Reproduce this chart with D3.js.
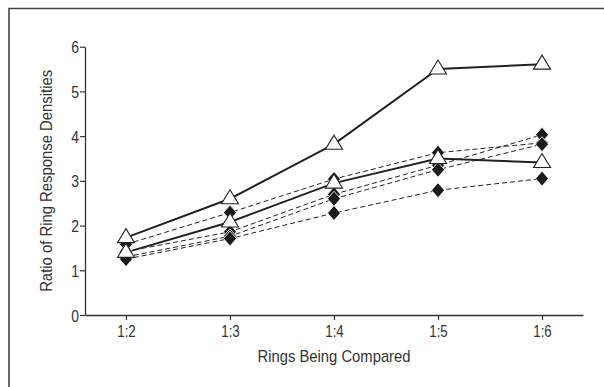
<!DOCTYPE html>
<html>
<head>
<meta charset="utf-8">
<script src="https://cdn.jsdelivr.net/npm/d3@7"></script>
<style>
  body { margin: 0; background: #fff; }
  svg { display: block; }
  text { font-family: "Liberation Sans", Arial, sans-serif; fill: #333; }
</style>
</head>
<body>
<svg id="chart"></svg>
<script>
const W = 604;
const H = 387;

const categories = ['1:2', '1:3', '1:4', '1:5', '1:6'];
const yTicks = [0, 1, 2, 3, 4, 5, 6];

// dashed lines, filled diamonds
const diamond1 = [1.58, 2.29, 3.04, 3.63, 3.85];
const diamond2 = [1.42, 1.86, 2.70, 3.35, 4.03];
const diamond3 = [1.30, 1.76, 2.60, 3.25, 3.82];
const diamond4 = [1.25, 1.71, 2.28, 2.79, 3.05];
// solid lines, open triangles
const triangle1 = [1.73, 2.60, 3.82, 5.50, 5.61];
const triangle2 = [1.40, 2.08, 2.95, 3.50, 3.41];

const series = [
	{ values: diamond1, kind: 'diamond' },
	{ values: diamond2, kind: 'diamond' },
	{ values: diamond3, kind: 'diamond' },
	{ values: diamond4, kind: 'diamond' },
	{ values: triangle1, kind: 'triangle' },
	{ values: triangle2, kind: 'triangle' },
];

const svg = d3.select('#chart').attr('width', W).attr('height', H);

// condensed look: squeeze glyphs horizontally
function condense(sel, k) {
	sel.each(function () {
		const len = this.getComputedTextLength();
		d3.select(this).attr('textLength', len * k).attr('lengthAdjust', 'spacingAndGlyphs');
	});
}

// frame (left and top edges only)
svg.append('path')
	.attr('d', `M9,${H} L9,8.5 L${W},8.5`)
	.attr('fill', 'none')
	.attr('stroke', '#444')
	.attr('stroke-width', 1.6);

const x = d3.scalePoint().domain(categories).range([85, 583]).padding(0.394);
const y = d3.scaleLinear().domain([0, 6]).range([315, 46.7]);

// axes
const xAxis = svg.append('g')
	.attr('transform', `translate(0,${y(0)})`)
	.call(d3.axisBottom(x).tickSize(5).tickSizeOuter(0));
const yAxis = svg.append('g')
	.attr('transform', `translate(85,0)`)
	.call(d3.axisLeft(y).tickValues(yTicks).tickFormat(d3.format('d')).tickSize(5).tickSizeOuter(0));

[xAxis, yAxis].forEach((ax) => {
	ax.select('.domain').attr('stroke', '#333').attr('stroke-width', 1.3);
	ax.selectAll('.tick line').attr('stroke', '#333').attr('stroke-width', 1.2);
	ax.selectAll('.tick text')
		.style('font-family', '"Liberation Sans", Arial, sans-serif')
		.style('font-size', '17px')
		.attr('fill', '#333');
});
xAxis.selectAll('.tick text').attr('dy', '0.8em').attr('y', 8).call(condense, 0.78);
yAxis.selectAll('.tick text').attr('x', -6).attr('dy', '0.36em').call(condense, 0.82);

// axis titles
svg.append('text')
	.attr('x', x('1:4'))
	.attr('y', 362)
	.attr('text-anchor', 'middle')
	.style('font-size', '17px')
	.attr('textLength', 153)
	.attr('lengthAdjust', 'spacingAndGlyphs')
	.text('Rings Being Compared');
svg.append('text')
	.attr('transform', `translate(52,${y(3)}) rotate(-90)`)
	.attr('text-anchor', 'middle')
	.style('font-size', '16.5px')
	.attr('textLength', 222)
	.attr('lengthAdjust', 'spacingAndGlyphs')
	.text('Ratio of Ring Response Densities');

const line = d3.line()
	.x((d, i) => x(categories[i]))
	.y((d) => y(d));

const plot = svg.append('g');

// lines first, then markers on top
series.forEach((s) => {
	plot.append('path')
		.datum(s.values)
		.attr('d', line)
		.attr('fill', 'none')
		.attr('stroke', '#222')
		.attr('stroke-width', s.kind === 'triangle' ? 2 : 1)
		.attr('stroke-dasharray', s.kind === 'triangle' ? null : '5,3');
});

const diamondPath = 'M0,-7.5 L6.5,0 L0,7.5 L-6.5,0 Z';
const trianglePath = 'M0,-8 L8.5,6 L-8.5,6 Z';

series.forEach((s) => {
	plot.append('g')
		.selectAll('path')
		.data(s.values)
		.enter()
		.append('path')
		.attr('transform', (d, i) => `translate(${x(categories[i])},${y(d) + (s.kind === 'triangle' ? -1 : 0)})`)
		.attr('d', s.kind === 'triangle' ? trianglePath : diamondPath)
		.attr('fill', s.kind === 'triangle' ? '#fff' : '#1a1a1a')
		.attr('stroke', s.kind === 'triangle' ? '#222' : '#fff')
		.attr('stroke-width', s.kind === 'triangle' ? 1.1 : 0.8);
});
</script>
</body>
</html>
